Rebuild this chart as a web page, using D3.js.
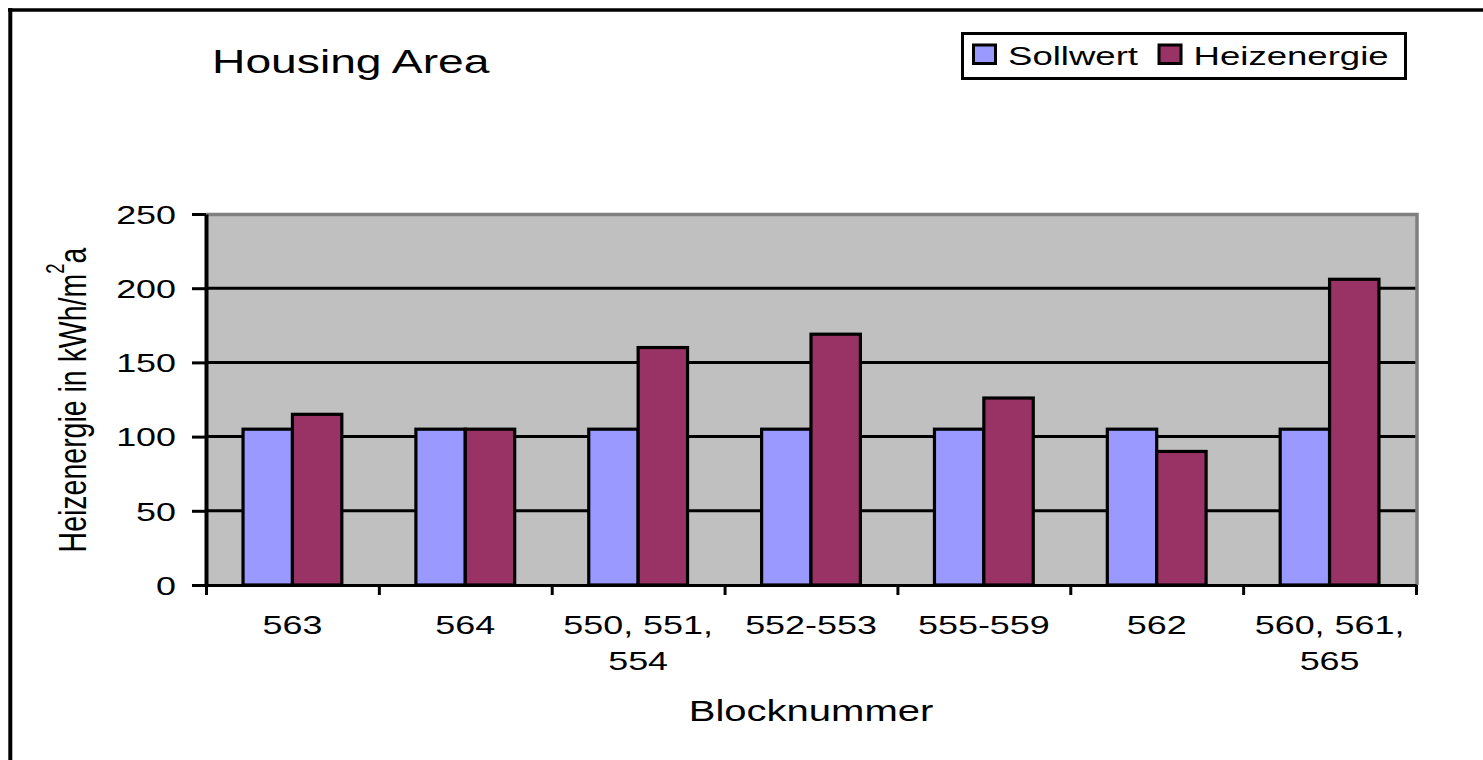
<!DOCTYPE html>
<html>
<head>
<meta charset="utf-8">
<script src="https://cdn.jsdelivr.net/npm/d3@7"></script>
<style>
  html, body { margin: 0; padding: 0; background: #fff; }
  svg { display: block; font-family: "Liberation Sans", Arial, sans-serif; }
</style>
</head>
<body>
<script>
// chart values
var categories = ["563", "564", "550, 551, 554", "552-553", "555-559", "562", "560, 561, 565"];
var seriesNames = ["Sollwert", "Heizenergie"];
var sollwert = [105, 105, 105, 105, 105, 105, 105];
var heizenergie = [115, 105, 160, 169, 126, 90, 206];
var yTicks = [0, 50, 100, 150, 200, 250];
var gridTicks = [50, 100, 150, 200];
var seriesColors = ["#9999ff", "#993366"];

var width = 1483, height = 760;
var sx = 1.38; // the picture is stretched sideways, so is the text

var svg = d3.select("body")
    .append("svg")
    .attr("width", width)
    .attr("height", height);

var plot = {left: 206, right: 1416, top: 214, bottom: 585};

var x0 = d3.scaleBand()
    .domain(categories)
    .range([plot.left, plot.right]);

// excel gap width 150%
var x1 = d3.scaleBand()
    .domain(seriesNames)
    .range([0, x0.bandwidth()])
    .paddingOuter(0.75);

var y = d3.scaleLinear()
    .domain([0, 250])
    .range([plot.bottom, plot.top]);

function stretch(x, yy) {
    return "translate(" + x + "," + yy + ") scale(" + sx + ",1)";
}

// outer frame
svg.append("line")
    .attr("x1", 8).attr("x2", width).attr("y1", 10).attr("y2", 10)
    .attr("stroke", "#000").attr("stroke-width", 3.5);
svg.append("line")
    .attr("x1", 10.3).attr("x2", 10.3).attr("y1", 8).attr("y2", height)
    .attr("stroke", "#000").attr("stroke-width", 4);

// plot area
svg.append("rect")
    .attr("x", plot.left).attr("y", plot.top)
    .attr("width", plot.right - plot.left).attr("height", plot.bottom - plot.top)
    .attr("fill", "#c0c0c0");

svg.append("g")
    .selectAll("line")
    .data(gridTicks)
    .enter().append("line")
    .attr("x1", plot.left).attr("x2", plot.right)
    .attr("y1", function (d) { return y(d); })
    .attr("y2", function (d) { return y(d); })
    .attr("stroke", "#000")
    .attr("stroke-width", 3);

// grey border top and right
svg.append("path")
    .attr("d", "M" + plot.left + "," + (y(250) + 0.5) + "H" + (plot.right + 1) + "V" + plot.bottom)
    .attr("fill", "none")
    .attr("stroke", "#808080")
    .attr("stroke-width", 3.5);

var rows = categories.map(function (c, i) {
    return {cat: c, values: [sollwert[i], heizenergie[i]]};
});

var groups = svg.append("g")
    .selectAll("g")
    .data(rows)
    .enter().append("g")
    .attr("transform", function (d) { return "translate(" + x0(d.cat) + ",0)"; });

groups.selectAll("rect")
    .data(function (d) {
        return seriesNames.map(function (s, j) {
            return {s: s, v: d.values[j], c: seriesColors[j]};
        });
    })
    .enter().append("rect")
    .attr("x", function (d) { return x1(d.s); })
    .attr("y", function (d) { return y(d.v); })
    .attr("width", x1.bandwidth())
    .attr("height", function (d) { return y(0) - y(d.v); })
    .attr("fill", function (d) { return d.c; })
    .attr("stroke", "#000")
    .attr("stroke-width", 3.2);

// y axis
var yAxis = svg.append("g")
    .attr("transform", "translate(" + plot.left + ",0)")
    .call(d3.axisLeft(y).tickValues(yTicks).tickSize(14).tickSizeOuter(0));

yAxis.attr("font-size", null).attr("font-family", null);
yAxis.select(".domain").attr("stroke", "#000").attr("stroke-width", 4);
yAxis.selectAll(".tick line").attr("stroke", "#000").attr("stroke-width", 3);
yAxis.selectAll(".tick text")
    .attr("x", 0)
    .attr("dy", "0.36em")
    .attr("transform", stretch(-30, 0))
    .style("font-size", "26px")
    .attr("fill", "#000");

// x axis, ticks between the categories
var xEdge = d3.scaleLinear()
    .domain([0, categories.length])
    .range([plot.left, plot.right]);

var xTicks = svg.append("g")
    .attr("transform", "translate(0," + plot.bottom + ")")
    .call(d3.axisBottom(xEdge)
        .tickValues(d3.range(categories.length + 1))
        .tickFormat("")
        .tickSize(10)
        .tickSizeOuter(0));

xTicks.select(".domain").attr("stroke", "#000").attr("stroke-width", 3);
xTicks.selectAll(".tick line").attr("stroke", "#000").attr("stroke-width", 3);

var xLabels = svg.append("g")
    .attr("transform", "translate(0," + plot.bottom + ")")
    .call(d3.axisBottom(x0).tickSize(0));

xLabels.attr("font-size", null).attr("font-family", null);
xLabels.select(".domain").remove();

xLabels.selectAll(".tick text").each(function (d) {
    var t = d3.select(this);
    t.attr("y", null).attr("dy", null)
        .attr("transform", stretch(0, 49))
        .style("font-size", "26px")
        .attr("fill", "#000")
        .text(null);
    var words = d.split(" ");
    var lines = [];
    var line = [];
    var probe = t.append("tspan");
    words.forEach(function (w) {
        line.push(w);
        probe.text(line.join(" "));
        if (probe.node().getComputedTextLength() * sx > x0.bandwidth() - 10 && line.length > 1) {
            line.pop();
            lines.push(line.join(" "));
            line = [w];
        }
    });
    lines.push(line.join(" "));
    probe.remove();
    lines.forEach(function (l, k) {
        t.append("tspan")
            .attr("x", 0)
            .attr("dy", k === 0 ? 0 : 36)
            .text(l);
    });
});

// titles
svg.append("text")
    .attr("transform", stretch(212, 73))
    .style("font-size", "33.5px")
    .text("Housing Area");

svg.append("text")
    .attr("transform", stretch((plot.left + plot.right) / 2, 721))
    .attr("text-anchor", "middle")
    .style("font-size", "29px")
    .text("Blocknummer");

var yTitle = svg.append("text")
    .attr("transform", "translate(86,400) scale(" + sx + ",1) rotate(-90)")
    .attr("text-anchor", "middle")
    .style("font-size", "28.5px");
yTitle.append("tspan").text("Heizenergie in kWh/m");
yTitle.append("tspan").attr("dy", -16).style("font-size", "18.5px").text("2");
yTitle.append("tspan").attr("dy", 16).text("a");

// legend
var legend = svg.append("g");
legend.append("rect")
    .attr("x", 962.5).attr("y", 33.5)
    .attr("width", 443).attr("height", 45)
    .attr("fill", "#fff")
    .attr("stroke", "#000")
    .attr("stroke-width", 3);

var lx = 973.5;
seriesNames.forEach(function (s, j) {
    legend.append("rect")
        .attr("x", lx).attr("y", 45)
        .attr("width", 22).attr("height", 18.5)
        .attr("fill", seriesColors[j])
        .attr("stroke", "#000")
        .attr("stroke-width", 3);
    var t = legend.append("text")
        .attr("transform", stretch(lx + 34.5, 65))
        .style("font-size", "26.5px")
        .text(s);
    lx = lx + 34.5 + t.node().getComputedTextLength() * sx + 21;
});
</script>
</body>
</html>
